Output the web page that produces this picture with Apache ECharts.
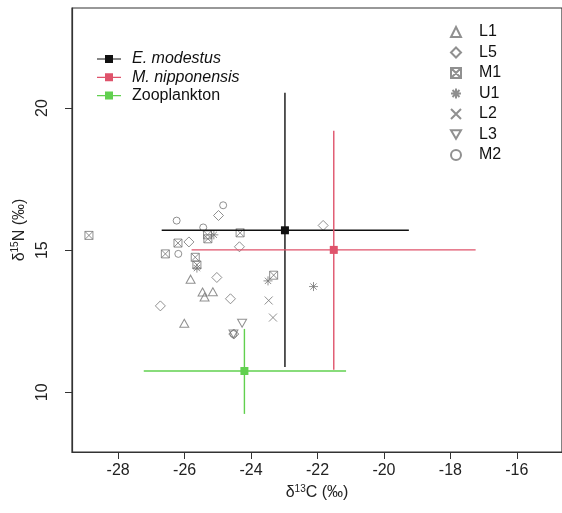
<!DOCTYPE html>
<html><head><meta charset="utf-8">
<script src="https://cdn.jsdelivr.net/npm/echarts@6/dist/echarts.min.js"></script>
<style>html,body{margin:0;padding:0;background:#fff}#c{width:562px;height:513px}</style>
</head><body><div id="c"></div>
<script>
// Tick labels
const xTicks = [-28, -26, -24, -22, -20, -18, -16];
const yTicks = [10, 15, 20];
// Site points [δ13C, δ15N]
const L1 = [[-25.82,13.98],[-25.46,13.53],[-25.15,13.54],[-25.40,13.35],[-26.01,12.43]];
const L5 = [[-24.98,16.22],[-25.87,15.29],[-24.35,15.12],[-25.03,14.04],[-24.62,13.29],[-26.73,13.04],[-21.83,15.87],[-24.52,12.05]];
const M1 = [[-25.31,15.54],[-25.30,15.40],[-24.33,15.61],[-26.20,15.25],[-26.58,14.87],[-25.68,14.75],[-25.63,14.48],[-23.32,14.12],[-28.88,15.52]];
const U1 = [[-25.12,15.54],[-25.63,14.37],[-23.49,13.92],[-22.12,13.72]];
const L2 = [[-23.47,13.23],[-23.34,12.63]];
const L3 = [[-24.27,12.43],[-24.53,12.05]];
const M2 = [[-24.84,16.58],[-26.24,16.04],[-25.44,15.80],[-26.19,14.87],[-24.53,12.05]];
// Group means with ranges: [meanC, meanN, minC, maxC, minN, maxN]
const groupNames = ['E. modestus', 'M. nipponensis', 'Zooplankton'];
const groupStats = [
  [-22.98, 15.70, -26.69, -19.25, 10.89, 20.54],
  [-21.51, 15.01, -25.79, -17.24, 10.79, 19.20],
  [-24.20, 10.75, -27.23, -21.14, 9.24, 12.23]
];
const groupColors = ['#111111', '#DF536B', '#61D04F'];

const gray = '#747474';
const sym = {
  L1: 'triangle',
  L5: 'path://M5,0L10,5L5,10L0,5Z',
  M1: 'path://M0,0L10,0L10,10L0,10ZM0,0L10,10M10,0L0,10',
  U1: 'path://M5,0L5,10M0,5L10,5M1.5,1.5L8.5,8.5M8.5,1.5L1.5,8.5',
  L2: 'path://M0,0L10,10M10,0L0,10',
  L3: 'path://M0,0L10,0L5,8.66Z',
  M2: 'circle'
};
const sizes = {L1:[9,8], L5:[10,10], M1:[8,8], U1:[9,9], L2:[8,8], L3:[9,8], M2:[7,7]};
const siteData = {L1, L5, M1, U1, L2, L3, M2};
const siteNames = ['L1','L5','M1','U1','L2','L3','M2'];

const series = siteNames.map(n => ({
  name: n, type: 'scatter', data: siteData[n], symbol: sym[n], symbolSize: sizes[n],
  itemStyle: {color: 'rgba(0,0,0,0)', borderColor: gray, borderWidth: 1},
  emphasis: {disabled: true}, z: 2
}));

groupNames.forEach((g, i) => {
  const col = groupColors[i];
  series.push({
    name: g, type: 'custom', data: [groupStats[i]], z: 5,
    dimensions: ['x','y','x0','x1','y0','y1'],
    encode: {x: [0,2,3], y: [1,4,5]},
    itemStyle: {color: col},
    renderItem: function (params, api) {
      const c = api.coord([api.value(0), api.value(1)]);
      const l = api.coord([api.value(2), api.value(1)]);
      const r = api.coord([api.value(3), api.value(1)]);
      const b = api.coord([api.value(0), api.value(4)]);
      const t = api.coord([api.value(0), api.value(5)]);
      return {type: 'group', children: [
        {type: 'line', shape: {x1: l[0], y1: l[1], x2: r[0], y2: r[1]}, style: {stroke: col, lineWidth: 1.4}},
        {type: 'line', shape: {x1: t[0], y1: t[1], x2: b[0], y2: b[1]}, style: {stroke: col, lineWidth: 1.4}},
        {type: 'rect', shape: {x: c[0]-4, y: c[1]-4, width: 8, height: 8}, style: {fill: col}}
      ]};
    }
  });
});

const font = 'Liberation Sans, Arial, sans-serif';
const chart = echarts.init(document.getElementById('c'), null, {renderer: 'canvas'});
chart.setOption({
  animation: false,
  textStyle: {fontFamily: font},
  grid: {left: 72, top: 8, bottom: 61, right: -4, show: true, borderColor: '#333', borderWidth: 1.2},
  xAxis: {
    type: 'value', min: -29.39, max: -14.64,
    splitLine: {show: false},
    axisLine: {show: true, onZero: false, lineStyle: {color: '#333', width: 1.2}},
    axisTick: {show: true, customValues: xTicks, length: 7, lineStyle: {color: '#333'}},
    axisLabel: {customValues: xTicks, fontSize: 16, color: '#222', margin: 11, fontFamily: font},
    name: '{a|δ}{s|13}{a|C (‰)}', nameLocation: 'middle', nameGap: 30,
    nameTextStyle: {rich: {a: {fontSize: 16, color: '#222', fontFamily: font}, s: {fontSize: 10, color: '#222', padding: [0,0,8,0], fontFamily: font}}}
  },
  yAxis: {
    type: 'value', min: 7.90, max: 23.52,
    splitLine: {show: false},
    axisLine: {show: true, onZero: false, lineStyle: {color: '#333', width: 1.2}},
    axisTick: {show: true, customValues: yTicks, length: 7, lineStyle: {color: '#333'}},
    axisLabel: {customValues: yTicks, fontSize: 16, color: '#222', rotate: 90, margin: 21, fontFamily: font},
    name: '{a|δ}{s|15}{a|N (‰)}', nameLocation: 'middle', nameGap: 43,
    nameTextStyle: {rich: {a: {fontSize: 16, color: '#222', fontFamily: font}, s: {fontSize: 10, color: '#222', padding: [0,0,8,0], fontFamily: font}}}
  },
  legend: [
    {
      data: groupNames.map(g => ({name: g, icon: 'path://M0,4.4L24,4.4L24,5.6L0,5.6ZM8,1L16,1L16,9L8,9Z'})),
      orient: 'vertical', left: 92, top: 46, itemWidth: 24, itemHeight: 10, itemGap: 2.3,
      selectedMode: false,
      formatter: n => n === 'Zooplankton' ? '{n|' + n + '}' : '{i|' + n + '}',
      textStyle: {padding: [0,0,0,6], rich: {
        i: {fontSize: 16, lineHeight: 17, fontStyle: 'italic', color: '#111', fontFamily: font},
        n: {fontSize: 16, lineHeight: 17, color: '#111', fontFamily: font}}}
    },
    {
      data: siteNames,
      orient: 'vertical', left: 445, top: 19, itemWidth: 10, itemHeight: 10, itemGap: 4.5,
      selectedMode: false,
      textStyle: {fontSize: 16, color: '#111', padding: [0,0,0,13], fontFamily: font}
    }
  ],
  series: series
});
</script></body></html>
